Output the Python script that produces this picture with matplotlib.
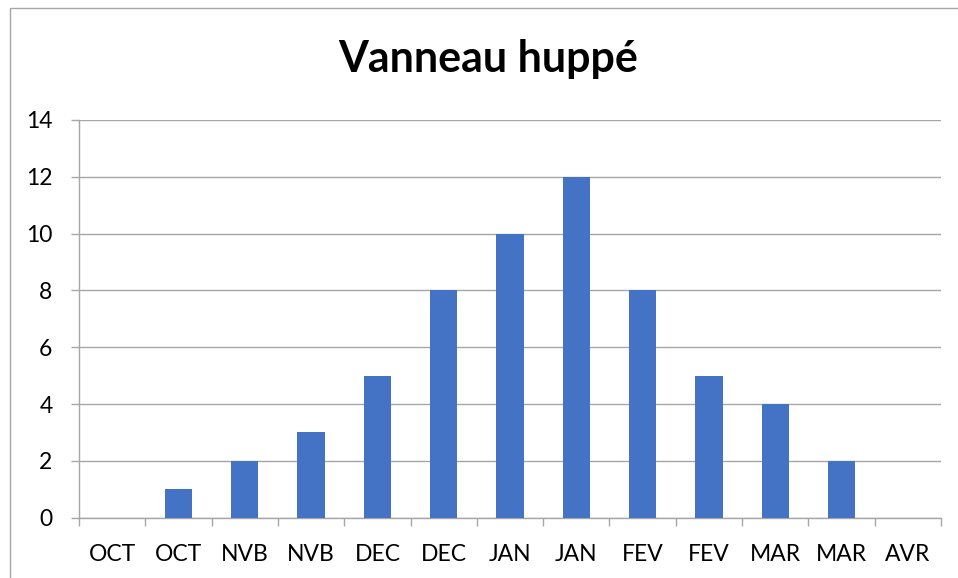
import matplotlib
matplotlib.use("Agg")
import matplotlib.pyplot as plt
from matplotlib.patches import Rectangle
import numpy as np

categories = ["OCT", "OCT", "NVB", "NVB", "DEC", "DEC", "JAN", "JAN",
              "FEV", "FEV", "MAR", "MAR", "AVR"]
values = [0, 1, 2, 3, 5, 8, 10, 12, 8, 5, 4, 2, 0]
yticks = [0, 2, 4, 6, 8, 10, 12, 14]
title = "Vanneau huppé"

plt.rcParams['font.family'] = ['Lato', 'DejaVu Sans']

W, H = 958, 578
fig = plt.figure(figsize=(W / 100, H / 100), dpi=100)
ax = fig.add_axes([79 / W, 1 - 517.7 / H, (941 - 79) / W, (517.7 - 120) / H])

grid_c = "#a6a6a6"
x = np.arange(len(categories))
ax.bar(x, values, width=0.41, color="#4472C4", zorder=3)

ax.set_xlim(-0.5, len(categories) - 0.5)
ax.set_ylim(0, 14)
ax.set_yticks(yticks)
ax.set_yticklabels([str(v) for v in yticks])
ax.set_xticks(x)
ax.set_xticklabels(categories)
ax.set_xticks(np.arange(-0.5, len(categories)), minor=True)

ax.tick_params(axis='x', which='major', length=0, pad=19, labelsize=16.5)
ax.tick_params(axis='x', which='minor', length=6, width=1.0, color=grid_c)
ax.tick_params(axis='y', which='major', length=6, width=1.0, color=grid_c,
               pad=13, labelsize=16.5)

ax.grid(axis='y', color=grid_c, linewidth=1.0, zorder=0)
for s in ['top', 'right']:
    ax.spines[s].set_visible(False)
for s in ['left', 'bottom']:
    ax.spines[s].set_color(grid_c)
    ax.spines[s].set_linewidth(1.0)

fig.text(488.5 / W, 1 - 72 / H, title, ha='center', va='baseline',
         fontsize=31, fontweight='bold')

fig.patches.append(Rectangle((9.5 / W, -0.1), 1.2, 1 - 8.5 / H + 0.1,
                             transform=fig.transFigure, fill=False,
                             edgecolor=grid_c, linewidth=1.0))

fig.savefig("out.png", dpi=100)
